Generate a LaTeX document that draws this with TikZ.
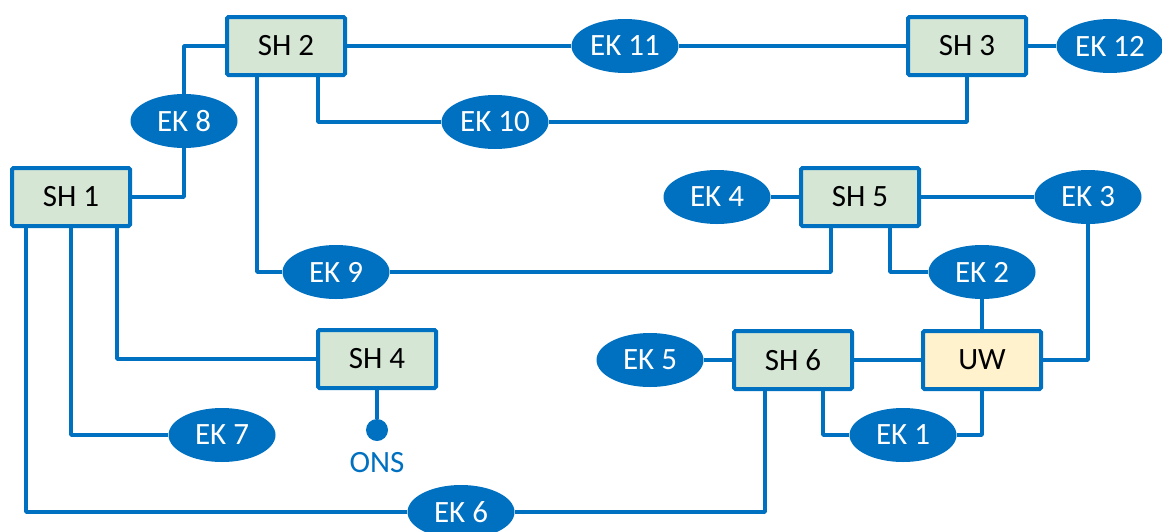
\documentclass[tikz,border=0pt]{standalone}
\usepackage{fontspec}
\setmainfont{Carlito}
\usetikzlibrary{shapes.geometric}
\definecolor{lineblue}{HTML}{0070C0}
\definecolor{boxgreen}{HTML}{D5E6D5}
\definecolor{boxyellow}{HTML}{FFF2CC}
\begin{document}
\begin{tikzpicture}[x=1pt,y=-1pt,
  every node/.style={font=\fontsize{31}{37}\selectfont},
  shbox/.style={draw=lineblue, line width=4pt, fill=boxgreen, minimum width=118pt, minimum height=58pt, inner sep=0pt, rounded corners=1.5pt, text=black},
  uwbox/.style={shbox, fill=boxyellow},
  ekell/.style={ellipse, fill=lineblue, minimum width=107pt, minimum height=54pt, inner sep=0pt, text=white},
  conn/.style={draw=lineblue, line width=3.5pt, line join=round}]
\useasboundingbox (0,0) rectangle (1162,531);
\clip (0,0) rectangle (1162,531);
% boxes
\node[shbox] (sh1) at (71,197) {SH 1};
\node[shbox] (sh2) at (286,46) {SH 2};
\node[shbox] (sh3) at (967,46) {SH 3};
\node[shbox] (sh4) at (377,359) {SH 4};
\node[shbox] (sh5) at (860,197) {SH 5};
\node[shbox] (sh6) at (793,360) {SH 6};
\node[uwbox] (uw) at (982,360) {UW};
% ellipses
\node[ekell] (ek8) at (184,121) {EK 8};
\node[ekell] (ek11) at (625,46) {EK 11};
\node[ekell] (ek12) at (1110,46) {EK 12};
\node[ekell] (ek10) at (495,122) {EK 10};
\node[ekell] (ek4) at (717,197) {EK 4};
\node[ekell] (ek3) at (1088,197) {EK 3};
\node[ekell] (ek9) at (336,272) {EK 9};
\node[ekell] (ek2) at (982,272) {EK 2};
\node[ekell] (ek5) at (650,360) {EK 5};
\node[ekell] (ek7) at (222,435) {EK 7};
\node[ekell] (ek1) at (903,435) {EK 1};
\node[ekell] (ek6) at (461,512) {EK 6};
\node[circle, fill=lineblue, minimum size=22pt, inner sep=0pt] (ons) at (377,430) {};
\node[text=lineblue, anchor=north, inner sep=0pt] (onslbl) at (377,452) {ONS};
% connectors
\draw[conn] (sh2.west) -| (ek8.north);
\draw[conn] (ek8.south) |- (sh1.east);
\draw[conn] (sh2.east) -- (ek11.west);
\draw[conn] (ek11.east) -- (sh3.west);
\draw[conn] (sh3.east) -- (ek12.west);
\draw[conn] ([xshift=32pt]sh2.south) |- (ek10.west);
\draw[conn] (ek10.east) -| (sh3.south);
\draw[conn] ([xshift=-29pt]sh2.south) |- (ek9.west);
\draw[conn] (ek9.east) -| ([xshift=-29pt]sh5.south);
\draw[conn] (ek4.east) -- (sh5.west);
\draw[conn] (sh5.east) -- (ek3.west);
\draw[conn] ([xshift=30pt]sh5.south) |- (ek2.west);
\draw[conn] (ek2.south) -- (uw.north);
\draw[conn] (ek3.south) |- (uw.east);
\draw[conn] (ek5.east) -- (sh6.west);
\draw[conn] (sh6.east) -- (uw.west);
\draw[conn] ([xshift=30pt]sh6.south) |- (ek1.west);
\draw[conn] (ek1.east) -| (uw.south);
\draw[conn] ([xshift=-28pt]sh6.south) |- (ek6.east);
\draw[conn] (ek6.west) -| ([xshift=-45pt]sh1.south);
\draw[conn] (sh1.south) |- (ek7.west);
\draw[conn] ([xshift=46pt]sh1.south) |- (sh4.west);
\draw[conn] (sh4.south) -- (ons.north);
\end{tikzpicture}
\end{document}
